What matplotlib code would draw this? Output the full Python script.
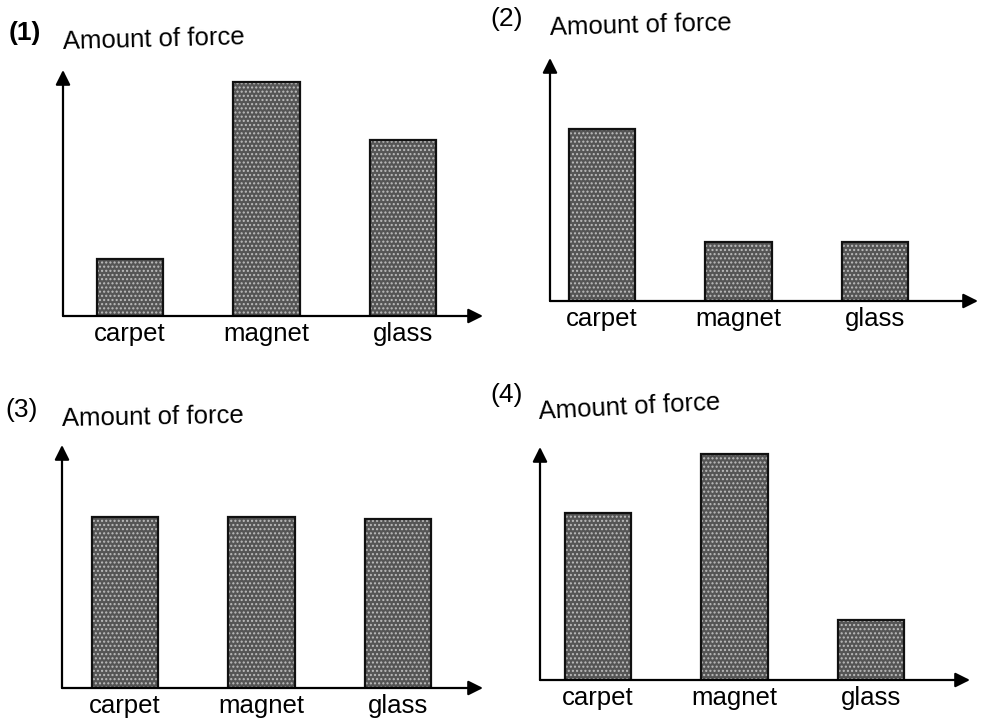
import matplotlib.pyplot as plt

# ----------------------------
# Data: four candidate charts, relative amount of force (0-10 scale)
# ----------------------------
materials = ['carpet', 'magnet', 'glass']
panel_labels = ['(1)', '(2)', '(3)', '(4)']
force_1 = [2.3, 9.5, 7.15]
force_2 = [7.0, 2.4, 2.4]
force_3 = [6.95, 6.95, 6.85]
force_4 = [6.8, 9.2, 2.45]
all_forces = [force_1, force_2, force_3, force_4]

plt.rcParams['font.family'] = ['Liberation Sans', 'DejaVu Sans']

fig = plt.figure(figsize=(9.85, 7.2), dpi=100)
W, H = 985, 720

# axes boxes in pixels: left, top(arrow tip), right(arrow tip), baseline
boxes = [
    (63, 70, 483, 316),
    (550, 58, 978, 301),
    (62, 445, 483, 688),
    (540, 447, 970, 680),
]
# pixel x of first bar centre relative to the y axis
first_offset = [67, 52, 63, 58]
spacing = 136.5

# panel number and title positions (pixels)
num_pos = [(9, 33), (490, 19), (5, 410), (490, 395)]
title_pos = [(63, 40), (550, 26), (62, 417), (538, 407)]
title_rot = [1.5, 1.5, 1, 3]

for i, forces in enumerate(all_forces):
    left, top, right, base = boxes[i]
    ax = fig.add_axes([left / W, 1 - base / H, (right - left) / W, (base - top) / H])
    x0 = -first_offset[i] / spacing
    x1 = (right - left - first_offset[i]) / spacing
    ax.set_xlim(x0, x1)
    ax.set_ylim(0, (base - top) / 24.6)

    xs = range(len(materials))
    # speckled grey fill
    ax.bar(xs, forces, width=0.49, color='#555555', edgecolor='#bdbdbd',
           hatch='....', linewidth=0)
    ax.bar(xs, forces, width=0.49, fill=False, edgecolor='#111111', linewidth=1.6)

    for s in ax.spines.values():
        s.set_visible(False)
    ax.set_yticks([])
    ax.set_xticks(list(xs))
    ax.set_xticklabels(materials, fontsize=18.5)
    ax.tick_params(axis='x', length=0, pad=4)

    arrow = dict(arrowstyle='-|>', color='black', lw=1.6, mutation_scale=22,
                 shrinkA=0, shrinkB=0)
    ax.annotate('', xy=(0, 1), xytext=(0, 0), xycoords='axes fraction',
                arrowprops=arrow, annotation_clip=False)
    ax.annotate('', xy=(1, 0), xytext=(0, 0), xycoords='axes fraction',
                arrowprops=arrow, annotation_clip=False)

    nx, ny = num_pos[i]
    fig.text(nx / W, 1 - ny / H, panel_labels[i], fontsize=19,
             fontweight='bold' if i == 0 else 'normal', va='center', ha='left')
    tx, ty = title_pos[i]
    fig.text(tx / W, 1 - ty / H, 'Amount of force', fontsize=18.5,
             va='center', ha='left', rotation=title_rot[i])

fig.savefig('out.png', dpi=100)
